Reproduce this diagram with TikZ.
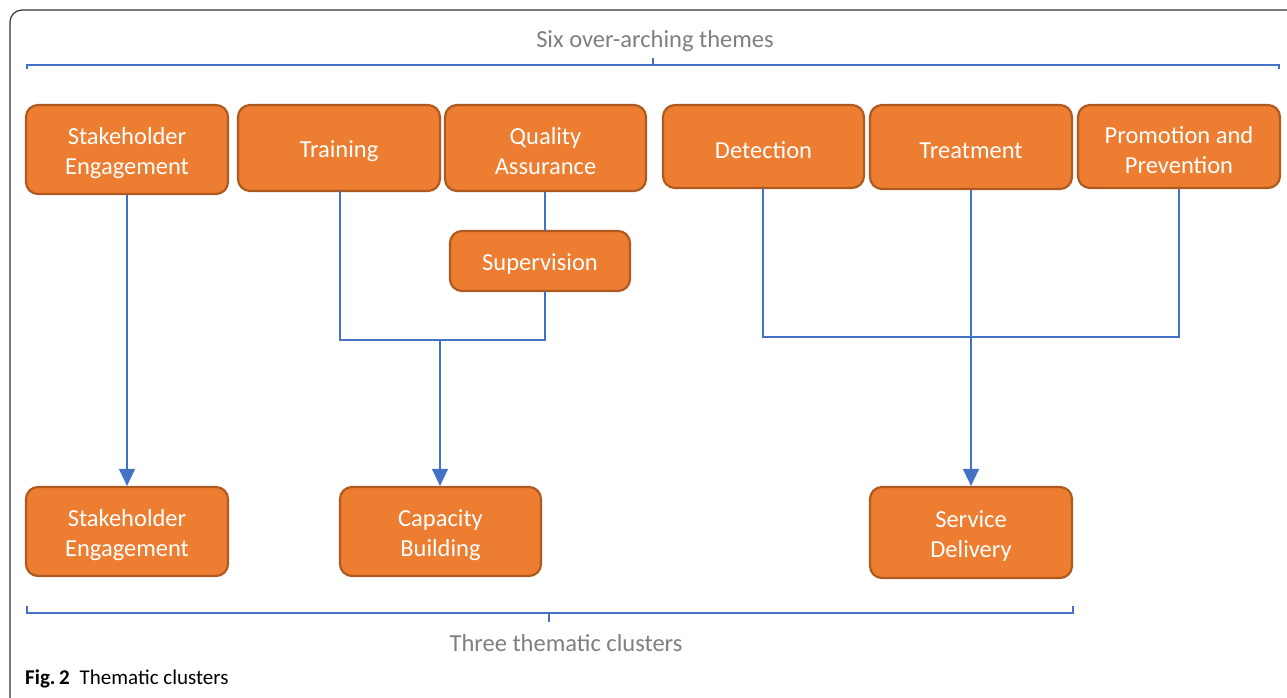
\documentclass[tikz,border=0pt]{standalone}
\usepackage{fontspec}
\setmainfont{Carlito}
\usetikzlibrary{arrows.meta}
\definecolor{boxfill}{HTML}{ED7D31}
\definecolor{boxline}{HTML}{AE5A21}
\definecolor{conncol}{HTML}{4472C4}
\definecolor{graytext}{HTML}{7F7F7F}
\definecolor{framecol}{HTML}{333333}
\tikzset{
  theme/.style={draw=boxline, fill=boxfill, line width=2.2pt, rounded corners=12pt, inner sep=0pt},
  boxtext/.style={text=white, align=center, inner sep=0pt, yshift=-3.5pt,
    font=\fontsize{24.5}{30}\selectfont},
  conn/.style={draw=conncol, line width=1.4pt},
  arr/.style={conn, -{Triangle[width=16pt,length=17pt]}},
  bracecol/.style={draw=conncol, line width=1.4pt},
  graylabel/.style={text=graytext, font=\fontsize{24.5}{29}\selectfont, inner sep=0pt}
}
\begin{document}
\begin{tikzpicture}[x=1pt,y=-1pt]
\useasboundingbox (0,0) rectangle (1287,697);
\clip (0,0) rectangle (1287,697);
% frame
\draw[framecol, line width=1.2pt, rounded corners=12pt] (10,710) -- (10,10) -- (1300,10);

% top brace
\node[graylabel] (six) at (655,41) {Six over-arching themes};
\coordinate (tb1) at (27,69);
\coordinate (tb2) at (1279,69);
\draw[bracecol] (tb1) -- (27,65) -- (1279,65) -- (tb2);
\coordinate (tbm) at (653,58);
\draw[bracecol] (tbm) -- (653,65);

% top themes
\node[theme, minimum width=202pt, minimum height=89pt, label={[boxtext]center:Stakeholder\\Engagement}] (s1) at (127,149.5) {};
\node[theme, minimum width=202pt, minimum height=86pt, label={[boxtext]center:Training}] (tr) at (339,148) {};
\node[theme, minimum width=201pt, minimum height=86pt, label={[boxtext]center:Quality\\Assurance}] (qa) at (545.5,148) {};
\node[theme, minimum width=201pt, minimum height=83pt, label={[boxtext]center:Detection}] (de) at (763.5,146.5) {};
\node[theme, minimum width=202pt, minimum height=84pt, label={[boxtext]center:Treatment}] (tm) at (971,147) {};
\node[theme, minimum width=202pt, minimum height=83pt, label={[boxtext]center:Promotion and\\Prevention}] (pp) at (1179,146.5) {};
\node[theme, minimum width=180pt, minimum height=60pt, label={[boxtext]center:Supervision}] (su) at (540,261) {};

% clusters
\node[theme, minimum width=202pt, minimum height=89pt, label={[boxtext]center:Stakeholder\\Engagement}] (s2) at (127,531.5) {};
\node[theme, minimum width=201pt, minimum height=89pt, label={[boxtext]center:Capacity\\Building}] (cb) at (440.5,531.5) {};
\node[theme, minimum width=202pt, minimum height=91pt, label={[boxtext]center:Service\\Delivery}] (sd) at (971,532.5) {};

% connectors
\draw[arr] (s1.south) -- (s2.north);
\draw[conn] (qa.south -| 545,0) -- (545,231);
\coordinate (j1) at (440,340);
\draw[conn] (340,191) -- (340,340) -- (545,340) -- (545,291);
\draw[arr] (j1) -- (cb.north -| j1);
\draw[conn] (763,188) -- (763,337) -- (1179,337) -- (pp.south);
\draw[arr] (tm.south) -- (sd.north);

% bottom brace
\draw[bracecol] (27,606) -- (27,613) -- (1073,613) -- (1073,606);
\coordinate (bbm) at (549,622);
\draw[bracecol] (549,613) -- (bbm);
\node[graylabel] (three) at (566,643) {Three thematic clusters};

% caption
\node[anchor=west, inner sep=0pt, font=\fontsize{21}{25}\selectfont] (cap) at (25,679) {\textbf{Fig.\,2}\hspace{10pt}Thematic clusters};
\end{tikzpicture}
\end{document}
